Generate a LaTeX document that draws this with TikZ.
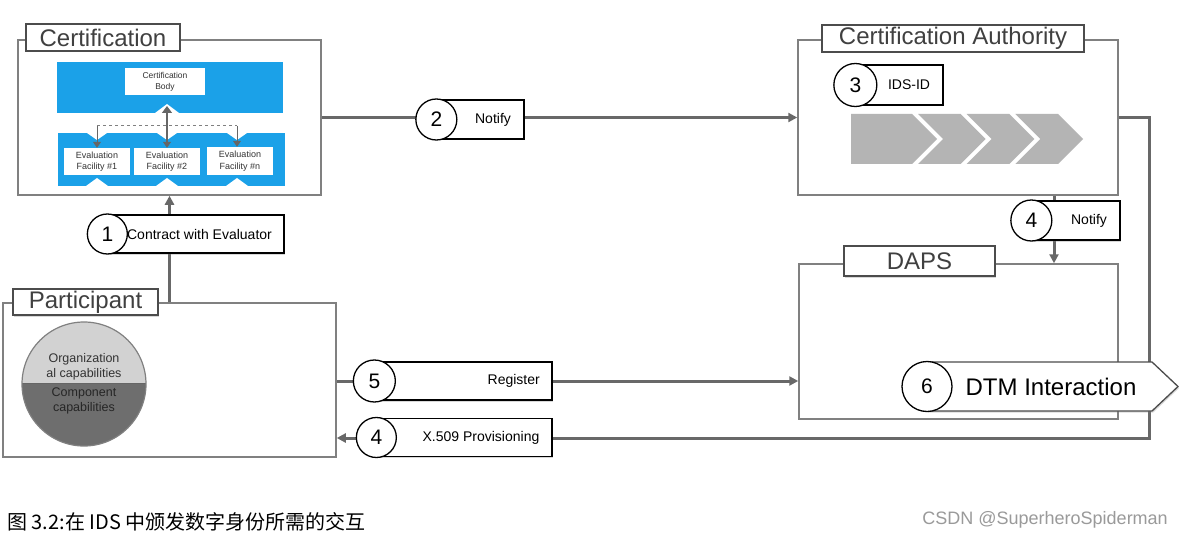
\documentclass[tikz,border=0pt]{standalone}
\usepackage{fontspec}
\setmainfont{Liberation Sans}
\newfontfamily\cjkfont{Noto Sans CJK SC}
\usetikzlibrary{arrows.meta,shadows}
\definecolor{framegray}{HTML}{808080}
\definecolor{linegray}{HTML}{686868}
\definecolor{titletext}{HTML}{404040}
\definecolor{panelblue}{HTML}{1BA1E8}
\definecolor{chev}{HTML}{B4B4B4}
\definecolor{lightcap}{HTML}{D2D2D2}
\definecolor{darkcap}{HTML}{6E6E6E}
\definecolor{wmgray}{HTML}{9A9A9A}
\newcommand{\fsz}[2]{\fontsize{#1}{#2}\selectfont}
\tikzset{
  frame/.style={draw=framegray, line width=1.5pt, fill=white, inner sep=0pt},
  titlebox/.style={draw=black!70, line width=1.2pt, fill=white, inner sep=0pt,
    font=\fsz{24}{28}, text=titletext,
    drop shadow={shadow xshift=1.2pt, shadow yshift=-1.5pt, opacity=0.3}},
  conn/.style={draw=linegray, line width=3pt, line join=miter,
    -{Triangle[length=9pt,width=9pt]}},
  tagbox/.style={draw=black, line width=1.3pt, fill=white, inner sep=0pt,
    drop shadow={shadow xshift=1.2pt, shadow yshift=-1.5pt, opacity=0.3}},
  numc/.style={circle, draw=black, line width=1.3pt, fill=white, inner sep=0pt,
    font=\fsz{21}{24}},
  tagtext/.style={font=\fsz{14}{16}, inner sep=0pt},
  panel/.style={fill=panelblue, inner sep=0pt},
  wbox/.style={fill=white, inner sep=0pt, align=center, text=black!80},
  smallarrow/.style={draw=black!60, line width=1pt, -{Triangle[length=6pt,width=8pt]}},
}
\begin{document}
\begin{tikzpicture}[x=1pt,y=-1pt]
\useasboundingbox (0,0) rectangle (1182,540);
\fill[white] (0,0) rectangle (1182,540);

% ---------- frames ----------
\node[frame, minimum width=303pt, minimum height=155pt] (cert) at (169.5,117.5) {};
\node[frame, minimum width=320pt, minimum height=155pt] (ca) at (958,117.5) {};
\node[frame, minimum width=319pt, minimum height=155pt] (daps) at (958.5,341.5) {};
\node[frame, minimum width=333pt, minimum height=154pt] (part) at (169.5,380) {};

% ---------- certification inner diagram ----------
\node[panel, minimum width=226pt, minimum height=51pt] (bluetop) at (170,87.5) {};
\node[panel, minimum width=227pt, minimum height=53pt] (bluebot) at (171.5,159.5) {};
\node[wbox, minimum width=80pt, minimum height=27pt, font=\fsz{8.5}{11}] (cbody) at (165,81.5) {Certification\\Body};
\fill[white] (155,113) -- (167,104) -- (179,113) -- cycle;
\foreach \xx in {97,167,237}{
  \fill[white] (\xx-10,133) -- (\xx,140) -- (\xx+10,133) -- cycle;
  \fill[white] (\xx-11,186) -- (\xx,178) -- (\xx+11,186) -- cycle;
}
\node[wbox, minimum width=66pt, minimum height=27pt, font=\fsz{9}{11.5}] (ef1) at (97,161.5) {Evaluation\\Facility \#1};
\node[wbox, minimum width=66pt, minimum height=27pt, font=\fsz{9}{11.5}] (ef2) at (167,161.5) {Evaluation\\Facility \#2};
\node[wbox, minimum width=66pt, minimum height=28pt, font=\fsz{9}{11.5}] (ef3) at (240,161) {Evaluation\\Facility \#n};
\coordinate (dl) at (97,126);
\coordinate (dr) at (237,126);
\coordinate (dm) at (167,126);
\draw[black!50, line width=1pt, dashed] (dl) -- (dr);
\draw[smallarrow] (dl) -- (dl |- ef1.north);
\draw[smallarrow] (dr) -- (dr |- ef3.north);
\draw[draw=black!60, line width=1.3pt, {Triangle[length=7pt,width=10pt]}-{Triangle[length=6pt,width=8pt]}] (167,106) -- (dm |- ef2.north);

% ---------- title boxes ----------
\node[titlebox, minimum width=154pt, minimum height=27pt] (certT) at (103,37.5) {Certification};
\node[titlebox, minimum width=262pt, minimum height=27pt] (caT) at (953,38.5) {Certification Authority};
\node[titlebox, minimum width=151pt, minimum height=30pt] (dapsT) at (919.5,261) {DAPS};
\node[titlebox, minimum width=145pt, minimum height=26pt] (partT) at (85.5,302) {Participant};

% ---------- chevrons ----------
\fill[chev] (851,114) -- (912,114) -- (937,139) -- (912,164) -- (851,164) -- cycle;
\foreach \k in {0,1,2}{
  \pgfmathsetmacro{\xa}{918+\k*48.67}
  \pgfmathsetmacro{\xb}{960.67+\k*48.67}
  \fill[chev] (\xa,114) -- (\xb,114) -- (\xb+25,139) -- (\xb,164) -- (\xa,164) -- (\xa+25,139) -- cycle;
}

% ---------- participant capabilities ----------
\node[circle, minimum size=124pt, inner sep=0pt, draw=framegray, line width=1.2pt,
  path picture={
    \fill[lightcap] (path picture bounding box.north west) rectangle ([yshift=0.5pt]path picture bounding box.east);
    \fill[darkcap] ([yshift=0.5pt]path picture bounding box.west) rectangle (path picture bounding box.south east);
    \draw[black!60, line width=1pt] ([yshift=0.5pt]path picture bounding box.west) -- ([yshift=0.5pt]path picture bounding box.east);
  }] (capc) at (84,384) {};
\node[font=\fsz{12.5}{14.5}, align=center, text=black!80, inner sep=0pt] (orgcap) at (84,367) {Organization\\al capabilities};
\node[font=\fsz{12.5}{14.5}, align=center, text=black!85, inner sep=0pt] (compcap) at (84,401) {Component\\capabilities};

% ---------- connectors ----------
\coordinate (n4) at (1054,0);
\coordinate (r5) at (0,381);
\coordinate (xr) at (1149,117.5);
\coordinate (xb) at (1149,438);
\draw[conn] (cert.south |- part.north) -- (cert.south);
\draw[conn] (cert.east) -- (ca.west);
\draw[conn] (ca.south -| n4) -- (daps.north -| n4);
\draw[conn] (part.east |- r5) -- (daps.west |- r5);
\draw[conn] (ca.east) -- (xr) -- (xb) -- (part.east |- xb);

% ---------- badges ----------
\node[tagbox, minimum width=176pt, minimum height=38pt] (b1) at (196,234) {};
\node[numc, minimum size=40pt] (c1) at (b1.west) {1};
\node[tagtext] (t1) at (199.5,234) {Contract with Evaluator};

\node[tagbox, minimum width=87pt, minimum height=39pt] (b2) at (480.5,119.5) {};
\node[numc, minimum size=41pt] (c2) at (b2.west) {2};
\node[tagtext] (t2) at (493,119.5) {Notify};

\node[tagbox, minimum width=87pt, minimum height=40pt] (b3) at (899.5,85) {};
\node[numc, minimum size=43pt] (c3) at (b3.west) {3};
\node[tagtext] (t3) at (909,85) {IDS-ID};

\node[tagbox, minimum width=88pt, minimum height=39pt] (b4) at (1076,220.5) {};
\node[numc, minimum size=41pt] (c4) at (b4.west) {4};
\node[tagtext] (t4) at (1089,220.5) {Notify};

\node[tagbox, minimum width=177pt, minimum height=38pt] (b5) at (463.5,381) {};
\node[numc, minimum size=42pt] (c5) at (b5.west) {5};
\node[tagtext, anchor=east] (t5) at (540,381) {Register};

\node[tagbox, minimum width=175pt, minimum height=38pt] (b6) at (464.5,437.5) {};
\node[numc, minimum size=40pt] (c6) at (b6.west) {4};
\node[tagtext] (t6) at (481,437.5) {X.509 Provisioning};

% ---------- DTM interaction ----------
\draw[draw=black!70, line width=1.3pt, fill=white,
  drop shadow={shadow xshift=1.2pt, shadow yshift=-1.5pt, opacity=0.3}]
  (927,362) -- (1152,362) -- (1178,386.5) -- (1152,411) -- (927,411) -- cycle;
\node[numc, minimum size=50pt] (c7) at (927,386.5) {6};
\node[font=\fsz{24}{28}, inner sep=0pt] (t7) at (1051,386.5) {DTM Interaction};

% ---------- caption ----------
\node[anchor=west, font=\cjkfont\fsz{20}{24}, inner sep=0pt] (caption) at (7,522) {图 3.2:在 IDS 中颁发数字身份所需的交互};
\node[anchor=east, font=\fsz{18}{22}, text=wmgray, inner sep=0pt] (wm) at (1168,520) {CSDN @SuperheroSpiderman};
\end{tikzpicture}
\end{document}
